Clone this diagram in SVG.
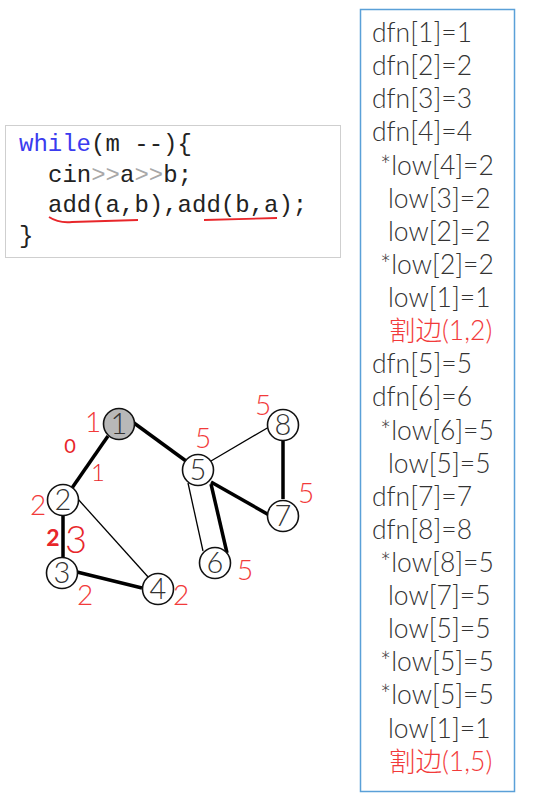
<svg xmlns="http://www.w3.org/2000/svg" width="558" height="795" viewBox="0 0 558 795">
<style>
  .code { font-family: "Liberation Mono", "DejaVu Sans Mono", monospace; font-size: 24px; fill: #222; }
  .kw { fill: #3b3bef; }
  .op { fill: #a8a8a8; }
  .node circle { fill: #fff; stroke: #111; stroke-width: 1.6; }
  .node text { font-family: "Lato", "Noto Sans", sans-serif; font-weight: 300; font-size: 29px; fill: #333; text-anchor: middle; }
  .thick { stroke: #000; stroke-width: 3.5; fill: none; }
  .thin { stroke: #000; stroke-width: 1.3; fill: none; }
  .red { font-family: "Lato", "Noto Sans", sans-serif; font-weight: 300; font-size: 28px; fill: #f23a3a; text-anchor: middle; }
  .hand { font-family: "Lato", "Liberation Sans", sans-serif; fill: #e8262a; text-anchor: middle; }
  .line { font-family: "Lato", "Noto Sans", "Noto Sans CJK SC", sans-serif; font-weight: 300; font-size: 26.5px; fill: #333; }
  .cut { fill: #f23a3a; }
</style>

<g id="code">
  <rect x="5.5" y="125.5" width="335" height="132" fill="#fff" stroke="#cfcfcf" stroke-width="1"/>
  <text class="code" x="19" y="151"><tspan class="kw">while</tspan>(m --){</text>
  <text class="code" x="48" y="182">cin<tspan class="op">&gt;&gt;</tspan>a<tspan class="op">&gt;&gt;</tspan>b;</text>
  <text class="code" x="48" y="212">add(a,b),add(b,a);</text>
  <text class="code" x="19" y="243">}</text>
  <path d="M49,217 C55,221 62,223 72,222 L138,220" stroke="#e8262a" stroke-width="1.8" fill="none"/>
  <path d="M204,220 L277,218" stroke="#e8262a" stroke-width="1.8" fill="none"/>
</g>

<g id="connectors">
  <line class="thick" x1="108" y1="436" x2="72" y2="488"/>
  <line class="thick" x1="134" y1="423" x2="186" y2="461"/>
  <line class="thick" x1="63" y1="515" x2="63" y2="558"/>
  <line class="thin" x1="77" y1="498" x2="149" y2="578"/>
  <line class="thick" x1="77" y1="572" x2="142" y2="588"/>
  <line class="thin" x1="211" y1="461" x2="269" y2="427"/>
  <line class="thick" x1="211" y1="482" x2="269" y2="515"/>
  <line class="thick" x1="283" y1="440" x2="283" y2="499"/>
  <line class="thin" x1="188" y1="483" x2="203" y2="551"/>
  <line class="thick" x1="211" y1="484" x2="227" y2="553"/>
</g>

<g id="node1" class="node"><circle cx="119" cy="424" r="15.5" style="fill:#b8b8b8"/><text x="119" y="434">1</text></g>
<g id="node2" class="node"><circle cx="63" cy="500" r="15.5"/><text x="63" y="510">2</text></g>
<g id="node3" class="node"><circle cx="62" cy="573" r="15.5"/><text x="62" y="583">3</text></g>
<g id="node4" class="node"><circle cx="158" cy="589" r="15.5"/><text x="158" y="599">4</text></g>
<g id="node5" class="node"><circle cx="198" cy="470" r="15.5"/><text x="198" y="480">5</text></g>
<g id="node6" class="node"><circle cx="215" cy="563" r="15.5"/><text x="215" y="573">6</text></g>
<g id="node7" class="node"><circle cx="283" cy="516" r="15.5"/><text x="283" y="526">7</text></g>
<g id="node8" class="node"><circle cx="283" cy="425" r="15.5"/><text x="283" y="435">8</text></g>

<g id="labels">
  <text class="red" x="93" y="432">1</text>
  <text class="red" x="203" y="448">5</text>
  <text class="red" x="263" y="415">5</text>
  <text class="red" x="306" y="503">5</text>
  <text class="red" x="245" y="580">5</text>
  <text class="red" x="38" y="515">2</text>
  <text class="red" x="85" y="605">2</text>
  <text class="red" x="181" y="605">2</text>
  <text class="hand" x="70" y="453" font-size="20" font-weight="400">0</text>
  <text class="hand" x="98" y="481" font-size="24" font-weight="300">1</text>
  <text class="hand" x="53" y="546" font-size="23" font-weight="bold">2</text>
  <text class="hand" x="76" y="553" font-size="38" font-weight="300">3</text>
</g>

<g id="panel">
  <rect x="360.5" y="9.5" width="154" height="782" fill="#fff" stroke="#5aa0d8" stroke-width="1.5"/>
  <text class="line" x="372" y="42">dfn[1]=1</text>
  <text class="line" x="372" y="75">dfn[2]=2</text>
  <text class="line" x="372" y="108">dfn[3]=3</text>
  <text class="line" x="372" y="141">dfn[4]=4</text>
  <text class="line" x="380" y="175">*low[4]=2</text>
  <text class="line" x="388" y="208">low[3]=2</text>
  <text class="line" x="388" y="241">low[2]=2</text>
  <text class="line" x="380" y="274">*low[2]=2</text>
  <text class="line" x="388" y="307">low[1]=1</text>
  <text class="line cut" x="389" y="340">割边(1,2)</text>
  <text class="line" x="372" y="373">dfn[5]=5</text>
  <text class="line" x="372" y="406">dfn[6]=6</text>
  <text class="line" x="380" y="440">*low[6]=5</text>
  <text class="line" x="388" y="473">low[5]=5</text>
  <text class="line" x="372" y="506">dfn[7]=7</text>
  <text class="line" x="372" y="539">dfn[8]=8</text>
  <text class="line" x="380" y="572">*low[8]=5</text>
  <text class="line" x="388" y="605">low[7]=5</text>
  <text class="line" x="388" y="638">low[5]=5</text>
  <text class="line" x="380" y="671">*low[5]=5</text>
  <text class="line" x="380" y="704">*low[5]=5</text>
  <text class="line" x="388" y="738">low[1]=1</text>
  <text class="line cut" x="389" y="771">割边(1,5)</text>
</g>
</svg>
